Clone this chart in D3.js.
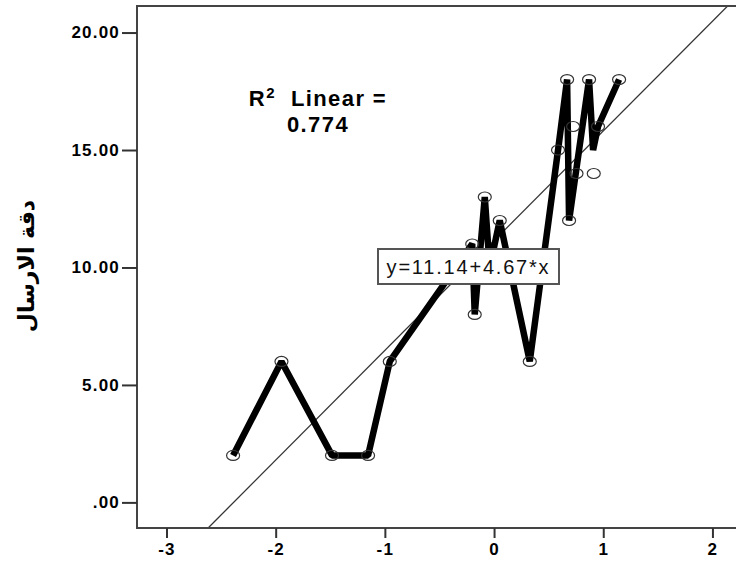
<!DOCTYPE html>
<html>
<head>
<meta charset="utf-8">
<script src="https://cdn.jsdelivr.net/npm/d3@7"></script>
<style>
  body { margin: 0; background: #fff; }
  svg { display: block; }
</style>
</head>
<body>
<div id="chart"></div>
<script>
// scatter circles
var pointX = [-2.39, -1.947, -1.484, -1.154, -0.955, -0.20, -0.177, -0.085, 0.052, 0.327,
              0.586, 0.669, 0.687, 0.724, 0.755, 0.87, 0.913, 0.952, 1.145];
var pointY = [2, 6, 2, 2, 6, 11, 8, 13, 12, 6,
              15, 18, 12, 16, 14, 18, 14, 16, 18];

// thick interpolation line, in drawing order
var lineX = [-2.39, -1.947, -1.484, -1.154, -0.955, -0.20, -0.177, -0.085, -0.04, 0.052,
             0.327, 0.586, 0.669, 0.687, 0.87, 0.907, 0.952, 1.145];
var lineY = [2, 6, 2, 2, 6, 11, 8, 13, 10, 12,
             6, 15, 18, 12, 18, 15, 16, 18];

var xTicks = [-3, -2, -1, 0, 1, 2];
var yTicks = [0, 5, 10, 15, 20];

var fitIntercept = 11.14,
    fitSlope = 4.67,
    rSquared = 0.774;
var fitLabel = "y=11.14+4.67*x";
var yTitle = "دقة الارسال";

var width = 736,
    height = 564;

var svg = d3.select("#chart")
  .append("svg")
    .attr("width", width)
    .attr("height", height);

var xScale = d3.scaleLinear()
    .domain([-3.27, 2.3])
    .range([137, 745.2]);
var yScale = d3.scaleLinear()
    .domain([-1.09, 21.13])
    .range([528, 6]);

var font = "'Liberation Sans', Arial, sans-serif";

// clip for marks inside the frame
svg.append("clipPath").attr("id", "plotClip")
  .append("rect")
    .attr("x", xScale.range()[0])
    .attr("y", yScale.range()[1])
    .attr("width", xScale.range()[1] - xScale.range()[0])
    .attr("height", yScale.range()[0] - yScale.range()[1]);

var plot = svg.append("g").attr("clip-path", "url(#plotClip)");

// regression line
var fitDomain = xScale.domain();
plot.append("line")
    .attr("x1", xScale(fitDomain[0]))
    .attr("y1", yScale(fitIntercept + fitSlope * fitDomain[0]))
    .attr("x2", xScale(fitDomain[1]))
    .attr("y2", yScale(fitIntercept + fitSlope * fitDomain[1]))
    .attr("stroke", "#333")
    .attr("stroke-width", 1.3);

// interpolation line
var linePts = lineX.map(function(d, i) { return [d, lineY[i]]; });
plot.append("path")
    .datum(linePts)
    .attr("fill", "none")
    .attr("stroke", "#000")
    .attr("stroke-width", 6.5)
    .attr("stroke-linejoin", "bevel")
    .attr("d", d3.line()
      .x(function(d) { return xScale(d[0]); })
      .y(function(d) { return yScale(d[1]); })
    );

// circles
plot.selectAll(".pt")
    .data(pointX.map(function(d, i) { return [d, pointY[i]]; }))
    .enter()
  .append("ellipse")
    .attr("class", "pt")
    .attr("cx", function(d) { return xScale(d[0]); })
    .attr("cy", function(d) { return yScale(d[1]); })
    .attr("rx", 6.5)
    .attr("ry", 5)
    .attr("fill", "none")
    .attr("stroke", "#333")
    .attr("stroke-width", 1.2);

// frame
svg.append("rect")
    .attr("x", xScale.range()[0])
    .attr("y", yScale.range()[1])
    .attr("width", xScale.range()[1] - xScale.range()[0])
    .attr("height", yScale.range()[0] - yScale.range()[1])
    .attr("fill", "none")
    .attr("stroke", "#444")
    .attr("stroke-width", 2);

// axes
var yFmt = function(d) { return d3.format(".2f")(d).replace(/^0\./, "."); };
var xFmt = function(d) { return String(d); };
var yAxis = svg.append("g")
    .attr("transform", "translate(" + xScale.range()[0] + ",0)")
    .call(d3.axisLeft(yScale).tickValues(yTicks).tickSize(15).tickPadding(2).tickFormat(yFmt));
var xAxis = svg.append("g")
    .attr("transform", "translate(0," + yScale.range()[0] + ")")
    .call(d3.axisBottom(xScale).tickValues(xTicks).tickSize(10).tickPadding(5).tickFormat(xFmt));

[yAxis, xAxis].forEach(function(ax) {
  ax.select(".domain").remove();
  ax.selectAll(".tick line").attr("stroke", "#333").attr("stroke-width", 2);
  ax.selectAll(".tick text")
    .attr("fill", "#000")
    .style("font-family", font)
    .style("font-weight", "bold")
    .style("font-size", "17px")
    .style("letter-spacing", "1.2px");
});

// y axis title
svg.append("text")
    .attr("transform", "translate(34,266) rotate(-90)")
    .attr("text-anchor", "middle")
    .style("font-family", "'DejaVu Sans', sans-serif")
    .style("font-weight", "bold")
    .style("font-size", "22px")
    .attr("fill", "#000")
    .text(yTitle);

// R squared annotation
var rText = svg.append("text")
    .attr("x", 318)
    .attr("y", 106)
    .attr("text-anchor", "middle")
    .style("font-family", font)
    .style("font-weight", "bold")
    .style("font-size", "22px")
    .style("letter-spacing", "1.4px")
    .attr("fill", "#000");
rText.append("tspan").text("R");
rText.append("tspan").attr("dy", -8).style("font-size", "15px").text("2");
rText.append("tspan").attr("dy", 8).text("\u00a0 Linear =");

svg.append("text")
    .attr("x", 318)
    .attr("y", 132)
    .attr("text-anchor", "middle")
    .style("font-family", font)
    .style("font-weight", "bold")
    .style("font-size", "22px")
    .style("letter-spacing", "1.4px")
    .attr("fill", "#000")
    .text(d3.format(".3f")(rSquared));

// equation box
var boxX = 378, boxY = 249;
svg.append("rect")
    .attr("x", boxX)
    .attr("y", boxY)
    .attr("width", 181)
    .attr("height", 35)
    .attr("fill", "#fff")
    .attr("stroke", "#555")
    .attr("stroke-width", 2);
svg.append("text")
    .attr("x", boxX + 90.5)
    .attr("y", boxY + 25)
    .attr("text-anchor", "middle")
    .style("font-family", font)
    .style("font-size", "20px")
    .style("letter-spacing", "1.8px")
    .attr("fill", "#111")
    .text(fitLabel);
</script>
</body>
</html>
